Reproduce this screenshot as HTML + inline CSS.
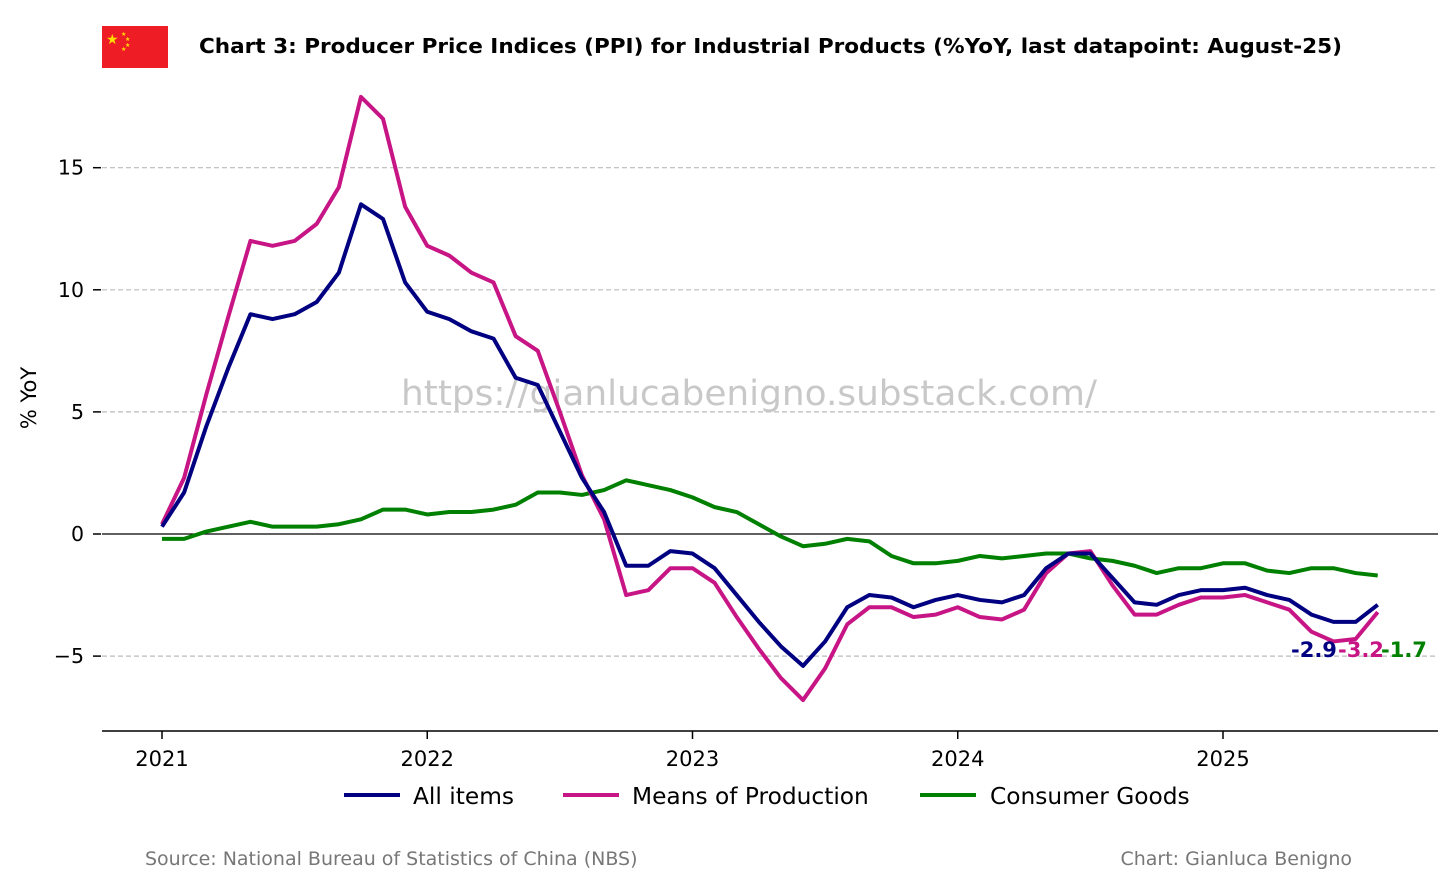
<!DOCTYPE html>
<html><head><meta charset="utf-8"><style>
body{margin:0;background:#fff;font-family:"Liberation Sans","DejaVu Sans",sans-serif}
</style></head><body>
<svg width="1456" height="886" xmlns="http://www.w3.org/2000/svg" id="chart" font-family="DejaVu Sans, Liberation Sans, sans-serif">
<rect width="1456" height="886" fill="#fff"/>
<g>
<rect x="102" y="26" width="66" height="42" fill="#ee1c25"/>
<text x="106" y="44" font-size="14" fill="#ffde00">★</text>
<text x="121" y="36" font-size="6" fill="#ffde00">★</text>
<text x="125" y="41" font-size="6" fill="#ffde00">★</text>
<text x="125" y="47" font-size="6" fill="#ffde00">★</text>
<text x="121" y="51" font-size="6" fill="#ffde00">★</text>
</g>
<text x="199" y="53" font-size="20" font-weight="bold" fill="#000" textLength="1143" lengthAdjust="spacingAndGlyphs">Chart 3: Producer Price Indices (PPI) for Industrial Products (%YoY, last datapoint: August-25)</text>
<g id="grid"></g>
<g id="axes"></g>
<text x="749" y="405" font-size="35" fill="#c8c8c8" text-anchor="middle" textLength="696" lengthAdjust="spacingAndGlyphs">https://gianlucabenigno.substack.com/</text>
<g id="series"></g>
<text transform="translate(36,398) rotate(-90)" font-size="21" text-anchor="middle">% YoY</text>
<g id="endlabels" font-size="21" font-weight="bold">
<text x="1291" y="657" fill="#000080">-2.9</text>
<text x="1338" y="657" fill="#c71585">-3.2</text>
<text x="1381" y="657" fill="#008000">-1.7</text>
</g>
<g font-size="23.3">
<line x1="344" y1="795" x2="400" y2="795" stroke="#000080" stroke-width="4"/>
<text x="413" y="804">All items</text>
<line x1="563" y1="795" x2="619" y2="795" stroke="#c71585" stroke-width="4"/>
<text x="632" y="804">Means of Production</text>
<line x1="920" y1="795" x2="976" y2="795" stroke="#008000" stroke-width="4"/>
<text x="990" y="804">Consumer Goods</text>
</g>
<text x="145" y="865" font-size="19" fill="#777">Source: National Bureau of Statistics of China (NBS)</text>
<text x="1352" y="865" font-size="19" fill="#777" text-anchor="end">Chart: Gianluca Benigno</text>
</svg>
<script>
const allItems=[0.3,1.7,4.4,6.8,9.0,8.8,9.0,9.5,10.7,13.5,12.9,10.3,9.1,8.8,8.3,8.0,6.4,6.1,4.2,2.3,0.9,-1.3,-1.3,-0.7,-0.8,-1.4,-2.5,-3.6,-4.6,-5.4,-4.4,-3.0,-2.5,-2.6,-3.0,-2.7,-2.5,-2.7,-2.8,-2.5,-1.4,-0.8,-0.8,-1.8,-2.8,-2.9,-2.5,-2.3,-2.3,-2.2,-2.5,-2.7,-3.3,-3.6,-3.6,-2.9];
const meansProd=[0.4,2.3,5.7,8.9,12.0,11.8,12.0,12.7,14.2,17.9,17.0,13.4,11.8,11.4,10.7,10.3,8.1,7.5,5.0,2.4,0.6,-2.5,-2.3,-1.4,-1.4,-2.0,-3.4,-4.7,-5.9,-6.8,-5.5,-3.7,-3.0,-3.0,-3.4,-3.3,-3.0,-3.4,-3.5,-3.1,-1.6,-0.8,-0.7,-2.1,-3.3,-3.3,-2.9,-2.6,-2.6,-2.5,-2.8,-3.1,-4.0,-4.4,-4.3,-3.2];
const consumer=[-0.2,-0.2,0.1,0.3,0.5,0.3,0.3,0.3,0.4,0.6,1.0,1.0,0.8,0.9,0.9,1.0,1.2,1.7,1.7,1.6,1.8,2.2,2.0,1.8,1.5,1.1,0.9,0.4,-0.1,-0.5,-0.4,-0.2,-0.3,-0.9,-1.2,-1.2,-1.1,-0.9,-1.0,-0.9,-0.8,-0.8,-1.0,-1.1,-1.3,-1.6,-1.4,-1.4,-1.2,-1.2,-1.5,-1.6,-1.4,-1.4,-1.6,-1.7];
const yTicks=[-5,0,5,10,15];
const xYears=[2021,2022,2023,2024,2025];
const NS="http://www.w3.org/2000/svg";
const xs=i=>162+i*(1223-162)/48;
const ys=v=>534-v*24.42;
function mk(t,a,p){const e=document.createElementNS(NS,t);for(const k in a)e.setAttribute(k,a[k]);p.appendChild(e);return e;}
const grid=document.getElementById('grid'),axes=document.getElementById('axes'),ser=document.getElementById('series');
yTicks.forEach(v=>{
 const y=ys(v);
 const g=mk('line',{x1:102,x2:1438,y1:y,y2:y,stroke:v===0?'#000':'#bbb','stroke-width':1.2,'stroke-dasharray':v===0?'':'5,3'},grid);
 
 
 mk('line',{x1:93,x2:101,y1:y,y2:y,stroke:'#000','stroke-width':1.5},axes);
 const t=mk('text',{x:84,y:y+7,'font-size':20.5,'text-anchor':'end'},axes);
 t.textContent=v===-5?'\u22125':String(v);
 
 
});
const sp=mk('line',{x1:102,x2:1438,y1:731,y2:731,stroke:'#000','stroke-width':1.5},axes);


xYears.forEach((yr,k)=>{
 const x=xs(k*12);
 mk('line',{x1:x,x2:x,y1:731,y2:739,stroke:'#000','stroke-width':1.5},axes);
 const t=mk('text',{x:x,y:766,'font-size':21,'text-anchor':'middle'},axes);
 t.textContent=yr;
 
 
});
function line(d,c,n){
 const p=mk('polyline',{points:d.map((v,i)=>xs(i)+','+ys(v)).join(' '),fill:'none',stroke:c,'stroke-width':4,'stroke-linejoin':'round'},ser);
 
 
}
line(consumer,'#008000','consumer-goods-line');
line(meansProd,'#c71585','means-of-production-line');
line(allItems,'#000080','all-items-line');
</script>
</body></html>
